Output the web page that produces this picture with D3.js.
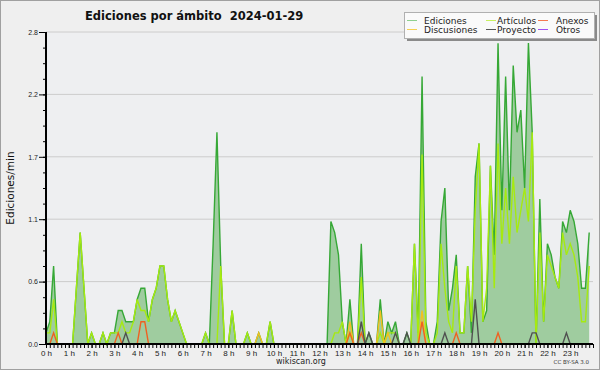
<!DOCTYPE html>
<html>
<head>
<meta charset="utf-8">
<script src="https://cdn.jsdelivr.net/npm/d3@7"></script>
<style>
  html, body { margin: 0; padding: 0; background: #efefef; }
  svg { display: block; font-family: "DejaVu Sans", sans-serif; }
</style>
</head>
<body>
<svg id="chart" width="600" height="370"></svg>
<script>
// edits per minute, one value per 10 minutes (6 per hour)
const ediciones = [
  0.1, 0.2, 0.7, 0, 0, 0,
  0, 0, 0.5, 1.0, 0.5, 0,
  0.1, 0, 0, 0.1, 0, 0.1,
  0.1, 0.3, 0.3, 0.2, 0.2, 0.2,
  0.4, 0.5, 0.5, 0.2, 0.4, 0.5,
  0.7, 0.7, 0.4, 0.2, 0.3, 0.2,
  0.1, 0, 0, 0, 0, 0,
  0.1, 0, 0.9, 1.9, 0.7, 0,
  0, 0.3, 0, 0, 0, 0.1,
  0, 0, 0.1, 0, 0, 0.2,
  0, 0, 0, 0, 0, 0,
  0, 0, 0, 0, 0, 0,
  0, 0, 0, 1.1, 1.0, 0.8,
  0.2, 0, 0.4, 0, 0, 0.9,
  0, 0.1, 0, 0, 0.4, 0,
  0.2, 0.1, 0.2, 0, 0, 0.1,
  0, 0.9, 0.1, 2.4, 0.2, 0,
  0, 0.2, 1.1, 1.4, 0.3, 0.5,
  0.8, 0.1, 0.1, 0.7, 0.1, 1.5,
  1.8, 0.2, 0.3, 1.6, 0.8, 2.7,
  1.2, 2.4, 1.2, 2.5, 1.9, 2.1,
  1.4, 2.7, 1.9, 0, 1.3, 0.2,
  0.9, 0.8, 0.6, 0.5, 1.1, 1.0,
  1.2, 1.1, 0.9, 0.5, 0.5, 1.0
];
const articulos = [
  0.1, 0.1, 0.4, 0, 0, 0,
  0, 0, 0.5, 1.0, 0.5, 0,
  0.1, 0, 0, 0.1, 0, 0.1,
  0.1, 0.1, 0.2, 0.1, 0.1, 0.2,
  0.4, 0.3, 0.3, 0.2, 0.4, 0.5,
  0.7, 0.7, 0.4, 0.2, 0.3, 0.2,
  0.1, 0, 0, 0, 0, 0,
  0.1, 0, 0, 0, 0.7, 0,
  0, 0.3, 0, 0, 0, 0.1,
  0, 0, 0, 0, 0, 0.2,
  0, 0, 0, 0, 0, 0,
  0, 0, 0, 0, 0, 0,
  0, 0, 0, 0, 0.1, 0.1,
  0.2, 0, 0.1, 0, 0, 0.6,
  0, 0, 0, 0, 0.1, 0,
  0.1, 0.1, 0.1, 0, 0, 0,
  0, 0.9, 0, 1.7, 0.1, 0,
  0, 0.1, 0.9, 0.5, 0.2, 0.1,
  0.7, 0.1, 0.1, 0.7, 0.2, 1.2,
  1.8, 0.2, 0.5, 1.6, 0.5, 1.8,
  0.9, 1.4, 0.9, 1.5, 1.0, 1.2,
  1.4, 1.1, 1.9, 0, 1.0, 0.2,
  0.8, 0.7, 0.6, 0.5, 1.0, 0.8,
  0.9, 0.8, 0.6, 0.2, 0.2, 0.7
];
// sparse series: [slot index, value]
const anexosPoints = [[2, 0.1], [19, 0.1], [25, 0.2], [26, 0.2], [80, 0.1], [83, 0.1], [99, 0.2], [108, 0.1], [119, 0.1]];
const discusionesPoints = [[56, 0.1], [80, 0.2], [88, 0.3], [90, 0.1], [99, 0.3]];
const proyectoPoints = [[21, 0.1], [83, 0.2], [85, 0.1], [92, 0.1], [95, 0.1], [105, 0.1], [113, 0.4], [128, 0.1], [129, 0.1], [137, 0.1]];
const otrosPoints = [];

const hourLabels = d3.range(24).map(h => h + " h");
const yTickValues = [0, 0.56, 1.12, 1.68, 2.24, 2.8];

const expand = pts => {
  const arr = new Array(144).fill(0);
  pts.forEach(([i, v]) => { arr[i] = v; });
  return arr;
};
const anexos = expand(anexosPoints);
const discusiones = expand(discusionesPoints);
const proyecto = expand(proyectoPoints);
const otros = expand(otrosPoints);

const svg = d3.select("#chart");
const W = 600, H = 370;
const plotLeft = 46, plotRight = 593, plotTop = 32, plotBottom = 344;

svg.append("rect").attr("x", 0.5).attr("y", 0.5).attr("width", W - 1).attr("height", H - 1)
  .attr("fill", "#efefef").attr("stroke", "#a0a0a0");

svg.append("rect").attr("x", plotLeft).attr("y", plotTop)
  .attr("width", plotRight - plotLeft).attr("height", plotBottom - plotTop)
  .attr("fill", "#eeeff1");

const x = d3.scaleLinear().domain([0, 1440]).range([plotLeft, plotRight]);
const y = d3.scaleLinear().domain([0, 2.8]).range([plotBottom, plotTop]);

// grid
svg.append("g").selectAll("line").data(yTickValues.slice(1)).enter().append("line")
  .attr("x1", plotLeft).attr("x2", plotRight)
  .attr("y1", d => y(d)).attr("y2", d => y(d))
  .attr("stroke", "#cccccc").attr("stroke-width", 1);

const line = d3.line().x((d, i) => x(i * 10)).y(d => y(d));
const area = d3.area().x((d, i) => x(i * 10)).y0(y(0)).y1(d => y(d));

svg.append("path").datum(ediciones).attr("d", area).attr("fill", "#9fcc9f");
svg.append("path").datum(ediciones).attr("d", line)
  .attr("fill", "none").attr("stroke", "#36a836").attr("stroke-width", 1.4);

const lineSeries = [
  { values: articulos, color: "#a6ea10" },
  { values: discusiones, color: "#f2c020" },
  { values: anexos, color: "#f06020" },
  { values: proyecto, color: "#505050" },
  { values: otros, color: "#9933ee" }
];
lineSeries.forEach(s => {
  svg.append("path").datum(s.values).attr("d", line)
    .attr("fill", "none").attr("stroke", s.color).attr("stroke-width", 1.4);
});

// y axis
const yAxis = svg.append("g").attr("transform", `translate(${plotLeft},0)`)
  .call(d3.axisLeft(y).tickValues(yTickValues).tickSize(7).tickPadding(1)
    .tickFormat(d3.format(".1f")));
const yMinor = svg.append("g").attr("transform", `translate(${plotLeft},0)`)
  .call(d3.axisLeft(y).tickValues(d3.range(0, 20).map(k => k * 0.14)).tickSize(3).tickFormat(""));
[yAxis, yMinor].forEach(g => {
  g.select(".domain").remove();
  g.selectAll("line").attr("stroke", "#000");
});
yAxis.selectAll("text").attr("font-size", 7).attr("fill", "#222");
svg.append("line").attr("x1", plotLeft).attr("x2", plotLeft).attr("y1", plotTop).attr("y2", plotBottom + 1)
  .attr("stroke", "#000").attr("stroke-width", 2);

// x axis
const xMinor = svg.append("g").attr("transform", `translate(0,${plotBottom})`)
  .call(d3.axisBottom(x).tickValues(d3.range(0, 1441, 10)).tickSize(4).tickFormat(""));
const xAxis = svg.append("g").attr("transform", `translate(0,${plotBottom})`)
  .call(d3.axisBottom(x).tickValues(d3.range(24).map(h => h * 60)).tickSize(4).tickPadding(2)
    .tickFormat((d, i) => hourLabels[i]));
[xMinor, xAxis].forEach(g => {
  g.select(".domain").remove();
  g.selectAll("line").attr("stroke", "#000");
});
xAxis.selectAll("text").attr("font-size", 8).attr("fill", "#222");
svg.append("line").attr("x1", plotLeft - 1).attr("x2", plotRight).attr("y1", plotBottom).attr("y2", plotBottom)
  .attr("stroke", "#000").attr("stroke-width", 2);

// titles
svg.append("text").attr("x", 85).attr("y", 20).attr("font-size", 11.5).attr("font-weight", "bold")
  .attr("fill", "#111").text("Ediciones por ámbito\u00a0\u00a02024-01-29");
svg.append("text").attr("transform", "translate(14,188) rotate(-90)").attr("text-anchor", "middle")
  .attr("font-size", 10.5).attr("fill", "#111").text("Ediciones/min");
svg.append("text").attr("x", 301).attr("y", 364).attr("text-anchor", "middle")
  .attr("font-size", 8).attr("fill", "#222").text("wikiscan.org");
svg.append("text").attr("x", 589).attr("y", 364).attr("text-anchor", "end")
  .attr("font-size", 5.5).attr("fill", "#333").text("CC BY-SA 3.0");

// legend
const legendItems = [
  { name: "Ediciones", color: "#8fd08f" },
  { name: "Artículos", color: "#c8f060" },
  { name: "Anexos", color: "#f47a50" },
  { name: "Discusiones", color: "#f6d050" },
  { name: "Proyecto", color: "#555555" },
  { name: "Otros", color: "#a050f0" }
];
const lg = svg.append("g");
lg.append("rect").attr("x", 407).attr("y", 15).attr("width", 190).attr("height", 26).attr("fill", "#8a8a8a");
lg.append("rect").attr("x", 404.5).attr("y", 12.5).attr("width", 190).attr("height", 26)
  .attr("fill", "#fafafa").attr("stroke", "#b0b0b0");
const colX = [407, 486, 538];
const textX = [424, 497, 556];
legendItems.forEach((d, i) => {
  const col = i % 3, row = Math.floor(i / 3);
  const cy = 20.5 + row * 9;
  lg.append("line").attr("x1", colX[col]).attr("x2", colX[col] + 10)
    .attr("y1", cy).attr("y2", cy).attr("stroke", d.color).attr("stroke-width", 1);
  lg.append("text").attr("x", textX[col]).attr("y", cy + 3.2).attr("font-size", 9)
    .attr("fill", "#222").text(d.name);
});
</script>
</body>
</html>
